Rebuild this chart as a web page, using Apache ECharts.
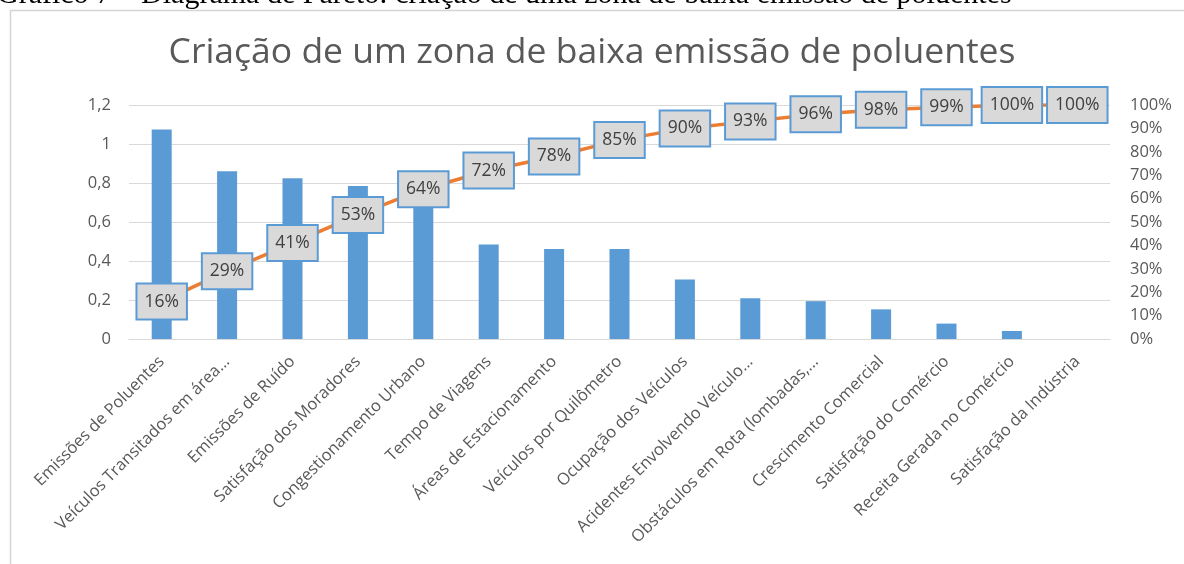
<!DOCTYPE html>
<html>
<head>
<meta charset="utf-8">
<script src="https://cdn.jsdelivr.net/npm/echarts@6/dist/echarts.min.js"></script>
<style>
  html, body { margin: 0; padding: 0; background: #fff; }
  #chart { width: 1184px; height: 564px; }
</style>
</head>
<body>
<div id="chart"></div>
<script>
// categorias (rótulos como aparecem no gráfico)
var categorias = [
  'Emissões de Poluentes',
  'Veículos Transitados em área...',
  'Emissões de Ruído',
  'Satisfação dos Moradores',
  'Congestionamento Urbano',
  'Tempo de Viagens',
  'Áreas de Estacionamento',
  'Veículos por Quilômetro',
  'Ocupação dos Veículos',
  'Acidentes Envolvendo Veículo...',
  'Obstáculos em Rota (lombadas,...',
  'Crescimento Comercial',
  'Satisfação do Comércio',
  'Receita Gerada no Comércio',
  'Satisfação da Indústria'
];
// pesos (barras)
var pesos = [1.075, 0.86, 0.825, 0.785, 0.70, 0.485, 0.462, 0.462, 0.305, 0.209, 0.194, 0.152, 0.079, 0.041, 0];
// % acumulado (linha)
var acumulado = [16, 29, 41, 53, 64, 72, 78, 85, 90, 93, 96, 98, 99, 100, 100];

var tituloDoc = 'Gráfico 7 – Diagrama de Pareto: criação de uma zona de baixa emissão de poluentes';
var titulo = 'Criação de um zona de baixa emissão de poluentes';

var fonte = '"Open Sans", "Noto Sans", sans-serif';
var cinza = '#595959';

var myChart = echarts.init(document.getElementById('chart'));

var option = {
  animation: false,
  textStyle: { fontFamily: fonte },
  title: {
    text: titulo,
    left: 'center',
    top: 30,
    textStyle: { fontFamily: fonte, fontSize: 35.5, fontWeight: 'normal', color: cinza }
  },
  graphic: [
    {
      type: 'rect',
      shape: { x: 10.5, y: 10.5, width: 1400, height: 800 },
      style: { fill: 'none', stroke: '#D4D4D4', lineWidth: 1.5 },
      silent: true
    },
    {
      type: 'text',
      left: -3,
      top: -20,
      style: {
        text: tituloDoc,
        font: '30px "Liberation Serif", "DejaVu Serif", serif',
        fill: '#000'
      },
      silent: true
    }
  ],
  grid: { left: 129, right: 74, top: 105, bottom: 225 },
  xAxis: {
    type: 'category',
    data: categorias,
    axisTick: { show: false },
    axisLine: { lineStyle: { color: '#D9D9D9', width: 1 } },
    axisLabel: {
      interval: 0,
      rotate: 45,
      fontSize: 16.5,
      color: cinza,
      margin: 20,
      fontFamily: fonte
    }
  },
  yAxis: [
    {
      type: 'value',
      min: 0,
      max: 1.2,
      interval: 0.2,
      axisLine: { show: false },
      axisTick: { show: false },
      splitLine: { lineStyle: { color: '#D9D9D9', width: 1 } },
      axisLabel: {
        fontSize: 16.5,
        color: cinza,
        margin: 18,
        fontFamily: fonte,
        formatter: function (v) {
          return String(Math.round(v * 10) / 10).replace('.', ',');
        }
      }
    },
    {
      type: 'value',
      min: 0,
      max: 100,
      interval: 10,
      position: 'right',
      axisLine: { show: false },
      axisTick: { show: false },
      splitLine: { show: false },
      axisLabel: {
        fontSize: 16.5,
        color: cinza,
        margin: 20,
        fontFamily: fonte,
        formatter: '{value}%'
      }
    }
  ],
  series: [
    {
      name: 'Peso',
      type: 'bar',
      data: pesos,
      barWidth: 20,
      itemStyle: { color: '#5B9BD5' },
      yAxisIndex: 0
    },
    {
      name: 'Acumulado',
      type: 'line',
      data: acumulado,
      yAxisIndex: 1,
      z: 5,
      symbol: 'circle',
      symbolSize: 1,
      itemStyle: { color: '#ED7D31' },
      lineStyle: { color: '#ED7D31', width: 3.5 },
      label: {
        show: true,
        position: 'inside',
        formatter: '{c}%',
        fontSize: 17.5,
        lineHeight: 21,
        color: '#404040',
        fontFamily: fonte,
        backgroundColor: '#D9D9D9',
        borderColor: '#5B9BD5',
        borderWidth: 2,
        padding: [7, 7, 6, 7]
      }
    }
  ]
};

myChart.setOption(option);
</script>
</body>
</html>
